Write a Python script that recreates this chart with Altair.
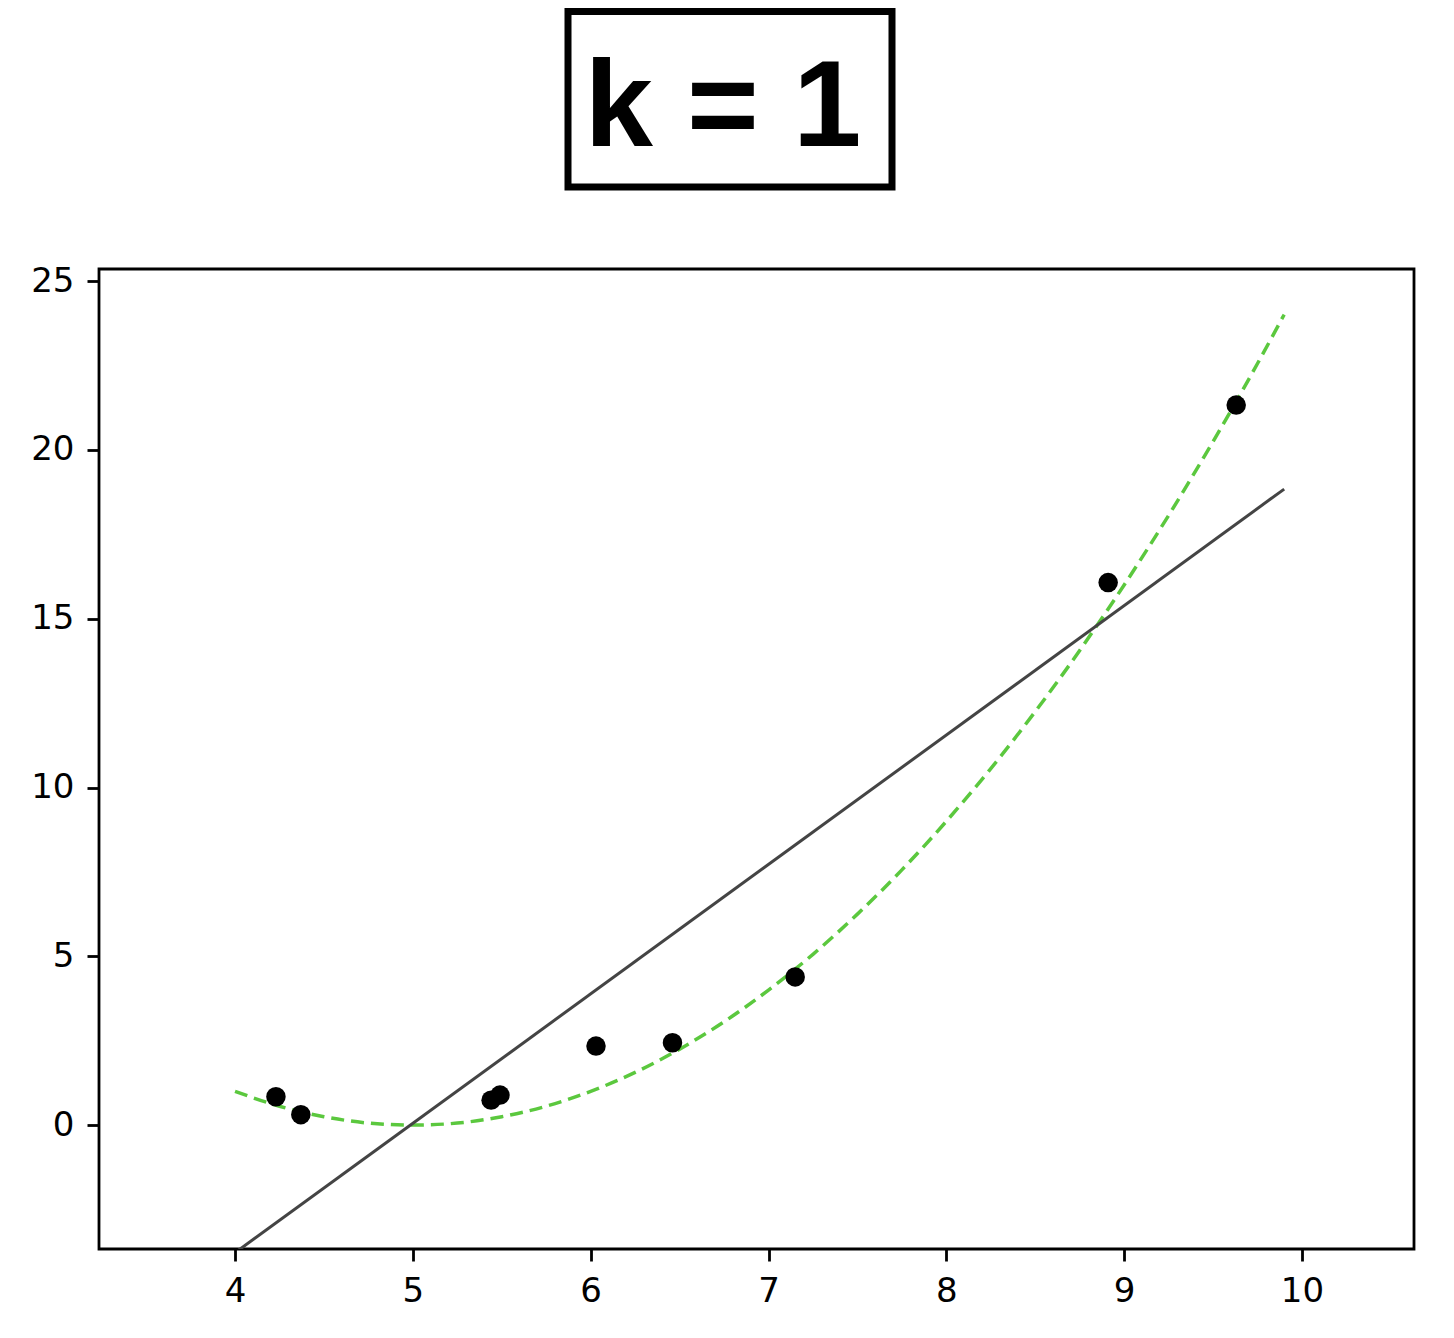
import altair as alt
import pandas as pd

# scatter points
pt_x = [4.23, 4.37, 5.44, 5.49, 6.03, 6.46, 7.15, 8.91, 9.63]
pt_y = [0.84, 0.31, 0.74, 0.89, 2.34, 2.44, 4.39, 16.07, 21.33]

# straight fitted line (endpoints)
line_x = [4.0, 9.9]
line_y = [-3.78, 18.84]

# green dashed curve
curve_x = [4.0, 4.25, 4.5, 4.75, 5.0, 5.25, 5.5, 5.75, 6.0, 6.25, 6.5, 6.75,
           7.0, 7.25, 7.5, 7.75, 8.0, 8.25, 8.5, 8.75, 9.0, 9.25, 9.5, 9.75, 9.9]
curve_y = [1.0, 0.56, 0.25, 0.06, 0.0, 0.06, 0.25, 0.56, 1.0, 1.56, 2.25, 3.06,
           4.0, 5.06, 6.25, 7.56, 9.0, 10.56, 12.25, 14.06, 16.0, 18.06, 20.25, 22.56, 24.01]

title_text = ["k = 1"]
x_ticks = [4, 5, 6, 7, 8, 9, 10]
y_ticks = [0, 5, 10, 15, 20, 25]
x_domain = [3.235, 10.63]
y_domain = [-3.67, 25.36]

pts = pd.DataFrame({"x": pt_x, "y": pt_y})
ln = pd.DataFrame({"x": line_x, "y": line_y})
cv = pd.DataFrame({"x": curve_x, "y": curve_y})
tt = pd.DataFrame({"t": title_text})

W, H = 1315, 980

xs = alt.Scale(domain=x_domain, nice=False, zero=False)
ys = alt.Scale(domain=y_domain, nice=False, zero=False)

xax = alt.Axis(values=x_ticks, format="d", title=None, grid=False, domain=False,
               tickSize=12, tickWidth=2.8, tickColor="black",
               labelFont="DejaVu Sans", labelFontSize=34, labelColor="black",
               labelPadding=13, labelFlush=False)
yax = alt.Axis(values=y_ticks, format="d", title=None, grid=False, domain=False,
               tickSize=12, tickWidth=2.8, tickColor="black",
               labelFont="DejaVu Sans", labelFontSize=34, labelColor="black",
               labelPadding=13, labelFlush=False)

curve = alt.Chart(cv).mark_line(
    color="#5BC83E", strokeWidth=3.5, strokeDash=[13, 7], interpolate="monotone", clip=True
).encode(x=alt.X("x:Q", scale=xs, axis=xax), y=alt.Y("y:Q", scale=ys, axis=yax))

line = alt.Chart(ln).mark_line(color="#444444", strokeWidth=3, clip=True).encode(
    x=alt.X("x:Q", scale=xs), y=alt.Y("y:Q", scale=ys))

points = alt.Chart(pts).mark_circle(color="black", opacity=1, size=380).encode(
    x=alt.X("x:Q", scale=xs), y=alt.Y("y:Q", scale=ys))

box = alt.Chart(tt).mark_rect(fill="white", stroke="black", strokeWidth=7).encode(
    x=alt.value(469), x2=alt.value(793), y=alt.value(-257.5), y2=alt.value(-82))

title = alt.Chart(tt).mark_text(
    font="Liberation Sans", fontWeight="bold", fontSize=123, color="black",
    align="center", baseline="alphabetic"
).encode(text="t:N", x=alt.value(624), y=alt.value(-123))

chart = alt.layer(curve, line, points, box, title).properties(
    width=W, height=H,
    autosize=alt.AutoSizeParams(type="none"),
    padding={"left": 91, "top": 261, "right": 24, "bottom": 70},
).configure_view(stroke="black", strokeWidth=2.8)

chart.save("out.html", embed_options={"renderer": "svg", "actions": False})
